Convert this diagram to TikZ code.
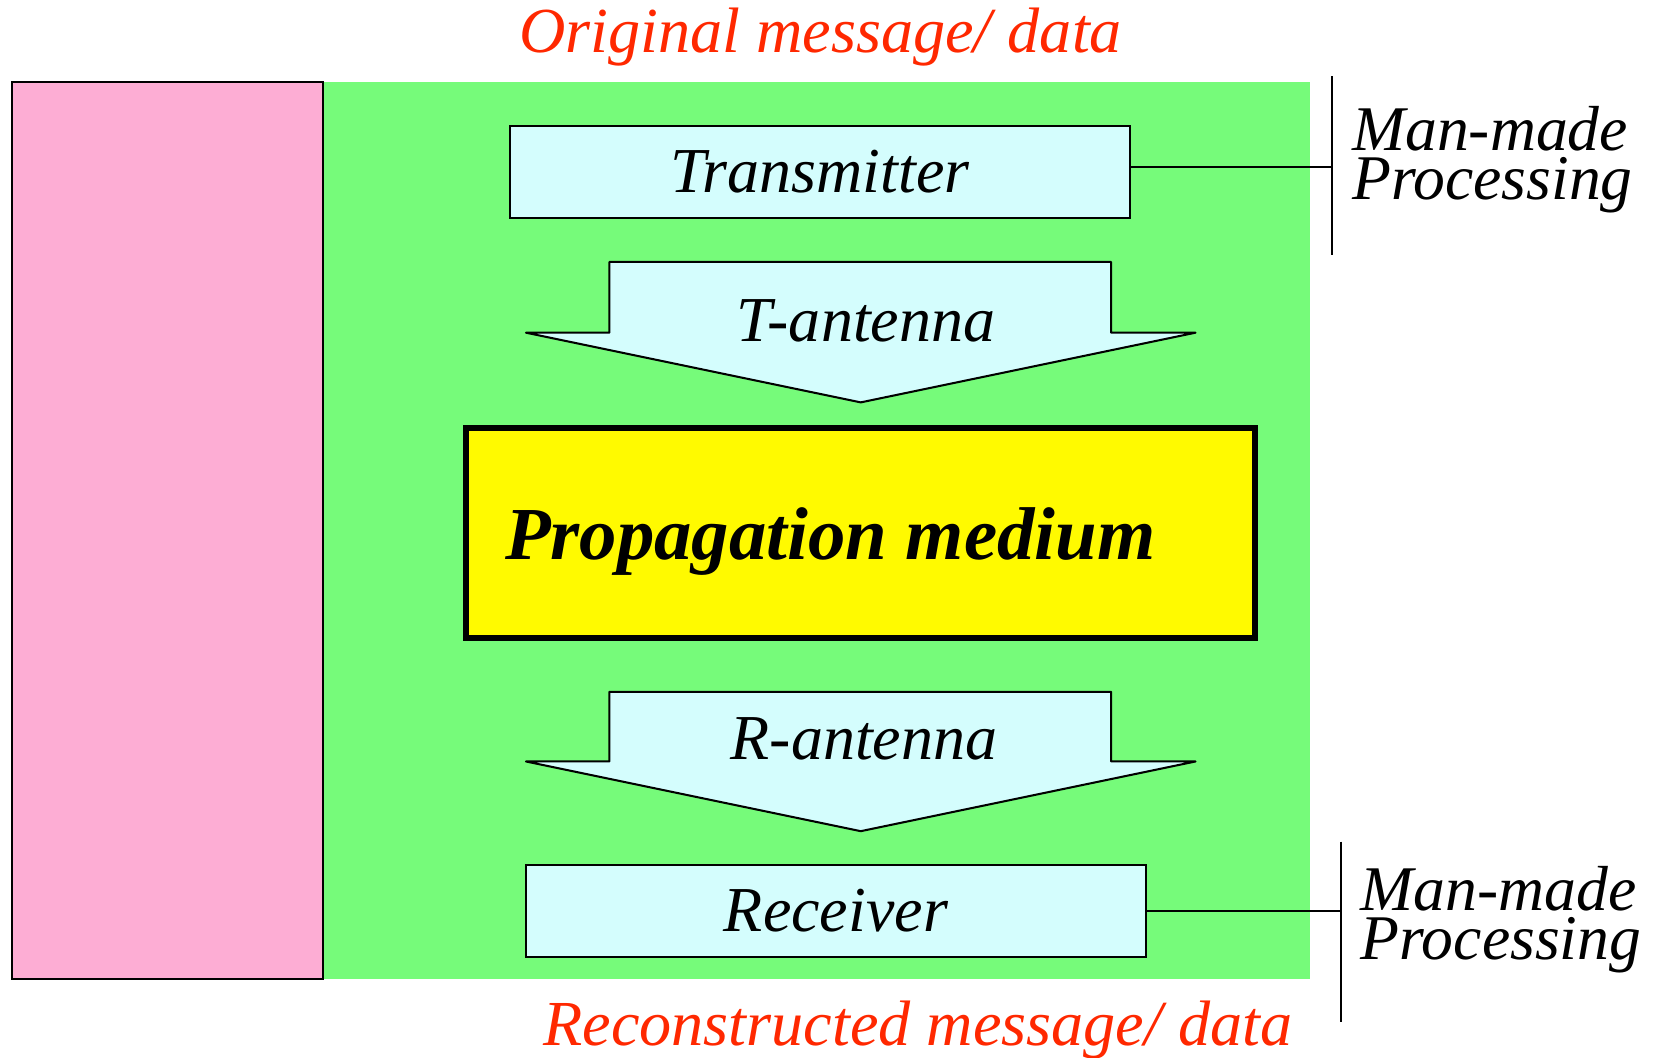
\documentclass[tikz,border=0pt]{standalone}
\usepackage{fontspec}
\setmainfont{Liberation Serif}
\usetikzlibrary{calc}

\definecolor{bggreen}{RGB}{118,251,122}
\definecolor{bgpink}{RGB}{253,173,212}
\definecolor{boxcyan}{RGB}{212,253,253}
\definecolor{medyellow}{RGB}{255,250,0}
\definecolor{msgred}{RGB}{255,40,0}

\begin{document}
\begin{tikzpicture}[x=0.02cm, y=-0.02cm,
  lbl/.style={font=\fontsize{34.5}{40}\selectfont\itshape, inner sep=0pt},
  stagebox/.style={draw, line width=1.1pt, fill=boxcyan, inner sep=0pt, lbl},
  blockarrow/.style={draw, line width=1.1pt, fill=boxcyan, line join=round},
  conn/.style={line width=1.1pt},
  sidenote/.style={font=\fontsize{34.3}{26.5}\selectfont\itshape, align=left,
                   inner sep=0pt, anchor=north west},
  msg/.style={font=\fontsize{34.6}{40}\selectfont\itshape, text=msgred,
              inner sep=0pt, anchor=base}]

\useasboundingbox (0,0) rectangle (1568,1001);

% background panels
\node[fill=bggreen, inner sep=0pt, minimum width=934*0.02cm,
      minimum height=849*0.02cm] (field) at (773,502.5) {};
\node[draw, line width=1.1pt, fill=bgpink, inner sep=0pt,
      minimum width=295*0.02cm, minimum height=849*0.02cm] (side) at (158.5,502.5) {};

% messages
\node[msg] (orig) at (777,50) {Original message/ data};
\node[msg] (recon) at (869,990) {Reconstructed message/ data};

% transmitter chain
\node[stagebox, minimum width=587*0.02cm, minimum height=87*0.02cm]
  (tx) at (776.5,162.5) {Transmitter};

\draw[blockarrow] (577,248) -- (1052,248) -- (1052,315) -- (1132,315)
  -- (815,381) -- (498,315) -- (577,315) -- cycle;
\node[lbl] (tant) at (820,304) {T-antenna};

% propagation medium
\node[draw, line width=3.4pt, fill=medyellow, inner sep=0pt,
      minimum width=747*0.02cm, minimum height=199*0.02cm] (med) at (814.5,504.5) {};
\node[font=\fontsize{40.3}{44}\selectfont\bfseries\itshape, inner sep=0pt,
      anchor=base] (medtxt) at (786,530) {Propagation medium};

% receiver chain
\draw[blockarrow] (577,655) -- (1052,655) -- (1052,721) -- (1132,721)
  -- (815,787) -- (498,721) -- (577,721) -- cycle;
\node[lbl] (rant) at (818,700) {R-antenna};

\node[stagebox, minimum width=587*0.02cm, minimum height=87*0.02cm]
  (rx) at (791.5,862.5) {Receiver};

% man-made processing brackets
\coordinate (tbt) at (1261,72);
\coordinate (tbb) at (1261,241);
\draw[conn] (tbt) -- (tbb);
\coordinate (txo) at ($(tx.north east)!0.45!(tx.south east)$);
\draw[conn] (txo) -- (txo -| tbt);
\node[sidenote] (mm1) at (1280,100) {Man-made\\Processing};

\coordinate (rbt) at (1270,797);
\coordinate (rbb) at (1270,968);
\draw[conn] (rbt) -- (rbb);
\draw[conn] (rx.east) -- (rx.east -| rbt);
\node[sidenote] (mm2) at (1288,820) {Man-made\\Processing};

\end{tikzpicture}
\end{document}
